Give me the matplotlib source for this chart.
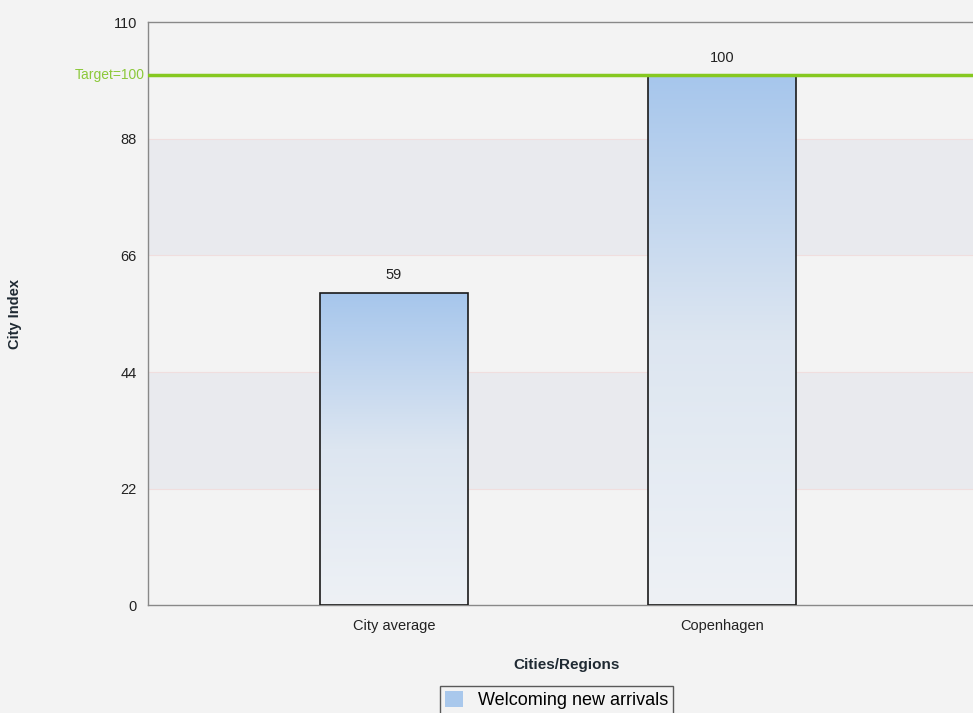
import matplotlib
matplotlib.use("Agg")
import matplotlib.pyplot as plt
import numpy as np
from matplotlib.patches import Patch
from matplotlib.colors import LinearSegmentedColormap

categories = ["City average", "Copenhagen"]
values = [59, 100]
target = 100
yticks = [0, 22, 44, 66, 88, 110]
series_name = "Welcoming new arrivals"

plt.rcParams['font.family'] = ['Liberation Sans', 'DejaVu Sans']
bg = '#f3f3f3'
fig = plt.figure(figsize=(9.73, 7.13), dpi=100, facecolor=bg)
ax = fig.add_axes([0.152, 0.151, 0.86, 0.818])
ax.set_facecolor(bg)

ax.set_xlim(-0.75, 1.80)
ax.set_ylim(0, 110)

# alternating bands
for lo, hi in [(22, 44), (66, 88)]:
    ax.axhspan(lo, hi, color='#e9eaee', zorder=0, lw=0)
for y in [22, 44, 66, 88]:
    ax.axhline(y, color='#f0dede', lw=0.8, zorder=0.5)

x = np.arange(len(categories))
bars = ax.bar(x, values, width=0.45, color='none', edgecolor='#1a1a1a', lw=1.2, zorder=3)
grad = np.linspace(0, 1, 256).reshape(-1, 1)
cmap = LinearSegmentedColormap.from_list('g', ['#eef1f5', '#dde6f1', '#a6c6ec'])
for b in bars:
    x0, y0 = b.get_x(), b.get_y()
    w, h = b.get_width(), b.get_height()
    im = ax.imshow(grad, cmap=cmap, aspect='auto', origin='lower',
                   extent=[x0, x0 + w, y0, y0 + h], zorder=2)
    im.set_clip_path(b)
    ax.text(x0 + w / 2, h + 2.0, f"{h:g}", ha='center', va='bottom', fontsize=10.5, color='#222222')

ax.axhline(target, color='#86c820', lw=2.5, zorder=4)
ax.text(-0.76, target, f"Target={target}", color='#8cc83a', fontsize=10, ha='right', va='center',
        transform=ax.transData, clip_on=False)

ax.set_yticks(yticks)
ax.set_yticklabels([str(t) for t in yticks], fontsize=10.5, color='#222222')
ax.set_xticks(x)
ax.set_xticklabels(categories, fontsize=10.5, color='#222222')
ax.tick_params(length=0, pad=8)
ax.tick_params(axis='x', pad=10)
for s in ['left', 'bottom', 'top']:
    ax.spines[s].set_color('#888888')
    ax.spines[s].set_linewidth(1.0)
ax.spines['right'].set_visible(False)

ax.set_ylabel("City Index", fontsize=10.5, fontweight='bold', color='#1f2a33', labelpad=66)
ax.set_xlabel("Cities/Regions", fontsize=11, fontweight='bold', color='#1f2a33', labelpad=18)

handle = Patch(facecolor='#a9c8ec', edgecolor='none')
leg = fig.legend([handle], [series_name], loc='center', bbox_to_anchor=(0.572, 0.018),
                 frameon=True, fontsize=13, handlelength=1.0, handleheight=1.0,
                 fancybox=False, edgecolor='#333333', borderpad=0.3)
leg.get_frame().set_facecolor(bg)

fig.savefig("out.png", dpi=100, facecolor=bg)
